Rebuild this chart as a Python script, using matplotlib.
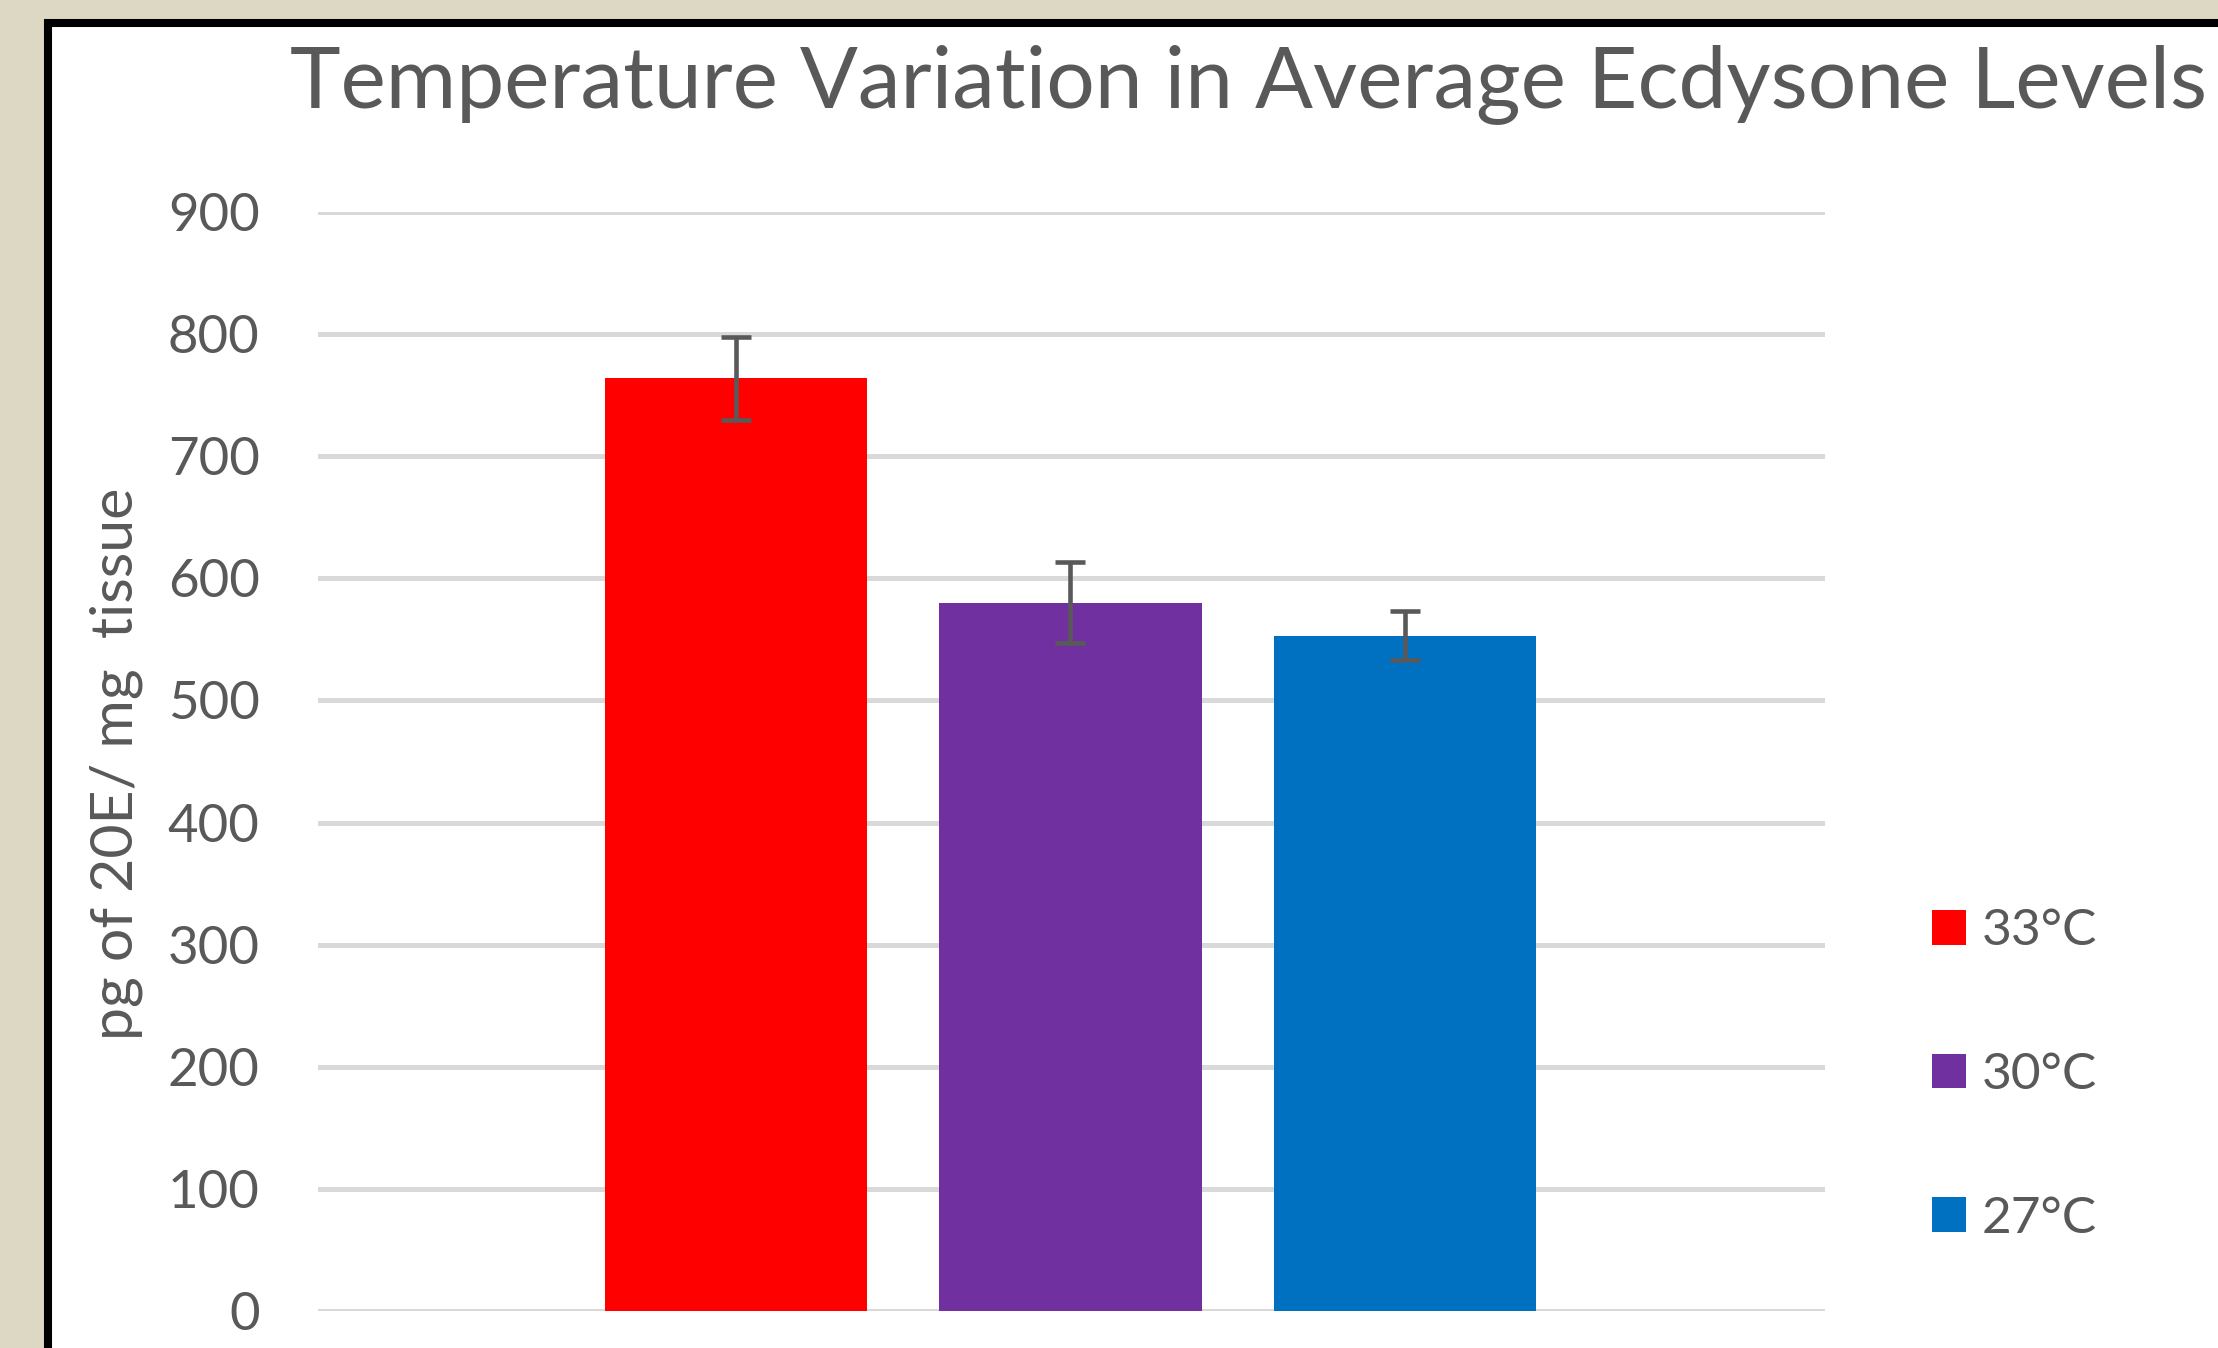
import matplotlib
matplotlib.use("Agg")
import matplotlib.pyplot as plt
from matplotlib.patches import Rectangle

# data
labels = ["33°C", "30°C", "27°C"]
values = [764, 580, 553]
errors = [34, 33, 20]
colors = ["#FF0000", "#7030A0", "#0070C0"]
yticks = [0, 100, 200, 300, 400, 500, 600, 700, 800, 900]
title = "Temperature Variation in Average Ecdysone Levels"
ylabel = "pg of 20E/ mg  tissue"

W, H = 2218, 1348
txt = "#595959"
plt.rcParams['font.family'] = ['Lato', 'DejaVu Sans']

fig = plt.figure(figsize=(W / 100, H / 100), dpi=100)
fig.patch.set_facecolor("#DDD8C3")

# white chart area with black frame (cut off right and bottom)
frame = Rectangle((48 / W, -0.1), 1.2, 1 - 23 / H + 0.1, transform=fig.transFigure,
                  facecolor="white", edgecolor="black", linewidth=5.8, zorder=0)
fig.add_artist(frame)

ax = fig.add_axes([318 / W, 37 / H, (1825 - 318) / W, (1311 - 212) / H])
ax.set_facecolor("white")
ax.set_zorder(1)

x = list(range(len(values)))
bars = ax.bar(x, values, width=0.786, color=colors, zorder=2)
for i in x:
    bars[i].set_label(labels[i])
ax.errorbar(x, values, yerr=errors, fmt="none", ecolor=txt, elinewidth=3.3,
            capsize=11, capthick=3.3, zorder=3)

ax.set_xlim(-1.25, 3.256)
ax.set_ylim(0, 900)
ax.set_yticks(yticks)
ax.set_xticks([])
ax.yaxis.grid(True, color="#D9D9D9", linewidth=3.6)
ax.set_axisbelow(True)
for s in ax.spines.values():
    s.set_visible(False)
ax.tick_params(axis="y", length=0, pad=42, labelsize=38, labelcolor=txt)

fig.text(116 / W, 1 - 764 / H, ylabel, rotation=90, ha="center", va="center",
         fontsize=42.5, color=txt)

t = fig.text(290 / W, 1 - 107 / H, title, ha="left", va="baseline",
             fontsize=57, color=txt)
fig.canvas.draw()
bb = t.get_window_extent()
t.set_fontsize(57 * 1918 / bb.width)

ax.legend(loc="center left", bbox_to_anchor=(1932 / W, 1 - 1075 / H),
          bbox_transform=fig.transFigure, frameon=False, fontsize=37,
          handlelength=0.66, handleheight=0.66, handletextpad=0.3,
          labelspacing=1.9, borderpad=0, borderaxespad=0, labelcolor=txt)

plt.savefig("out.png", dpi=100, facecolor=fig.get_facecolor())
